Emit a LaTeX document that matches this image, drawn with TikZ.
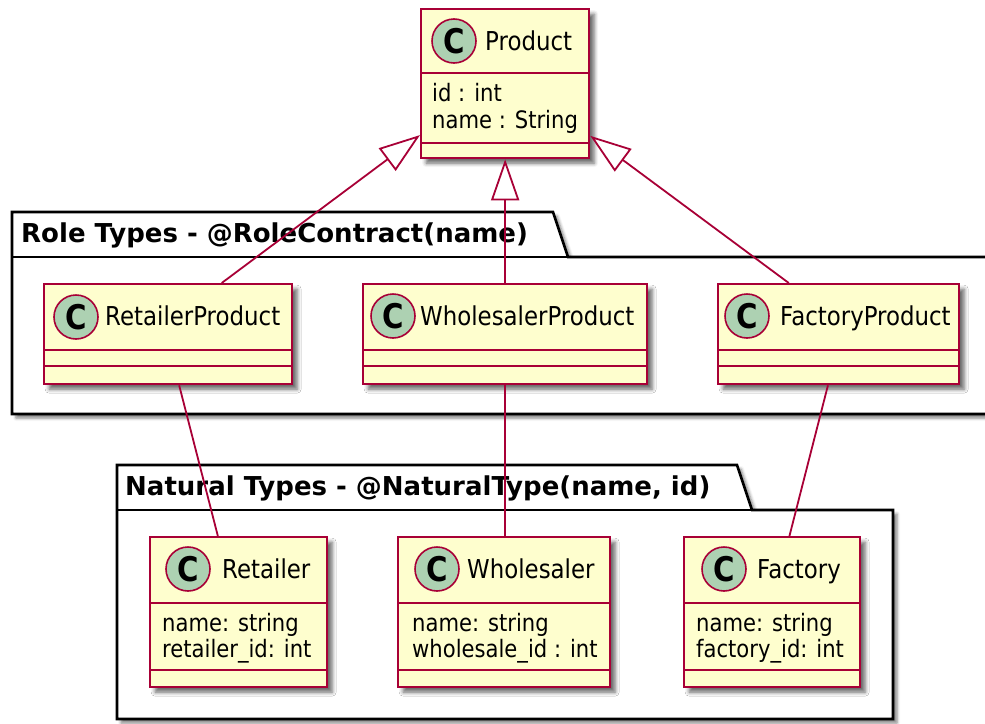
\documentclass[tikz,border=0pt]{standalone}
\usepackage{fontspec}
\setmainfont{DejaVu Sans}
\newfontfamily\clsfont[FakeStretch=0.88]{DejaVu Sans}
\newfontfamily\markfont[FakeStretch=0.86]{DejaVu Sans}
\usetikzlibrary{arrows.meta,calc,shadows.blur}
\definecolor{umlborder}{HTML}{A80036}
\definecolor{umlfill}{HTML}{FEFECE}
\definecolor{umlmark}{HTML}{ADD1B2}
\tikzset{
  classbox/.style={draw=umlborder, fill=umlfill, line width=2.3pt, rectangle, inner sep=0pt, anchor=north west,
    blur shadow={shadow xshift=5pt, shadow yshift=-5pt, shadow blur radius=4pt, shadow opacity=60}},
  divider/.style={draw=umlborder, line width=2.2pt},
  classmark/.style={circle, draw=umlborder, fill=umlmark, line width=1.6pt, minimum size=44pt, inner sep=0pt,
    font=\markfont\bfseries\fontsize{34}{34}\selectfont},
  classname/.style={anchor=base west, inner sep=0pt, font=\clsfont\fontsize{26}{30}\selectfont},
  attr/.style={anchor=base west, inner sep=0pt, font=\clsfont\fontsize{24}{26}\selectfont},
  pkg/.style={draw=black, line width=2.6pt, fill=white, line join=miter,
    blur shadow={shadow xshift=4pt, shadow yshift=-4pt, shadow blur radius=3pt, shadow opacity=50}},
  pkgline/.style={draw=black, line width=2.6pt},
  pkgtitle/.style={anchor=base west, inner sep=0pt, font=\bfseries\fontsize{26}{30}\selectfont},
  extends/.style={draw=umlborder, line width=1.8pt, -{Triangle[open, fill=white, length=41pt, width=28pt]}},
  assoc/.style={draw=umlborder, line width=1.8pt},
}
\begin{document}
\begin{tikzpicture}[x=1pt, y=-1pt]
\useasboundingbox (0,0) rectangle (985,723);
\clip (0,0) rectangle (985,723);

% packages
\path[pkg] (12,414) -- (12,212) -- (553,212) -- (568,257) -- (1000,257) -- (1000,414) -- cycle;
\draw[pkgline] (12,257) -- (568,257);
\node[pkgtitle] (roletitle) at (21,242) {Role Types - @RoleContract(name)};

\path[pkg] (117,719) -- (117,465) -- (737,465) -- (752,510) -- (893,510) -- (893,719) -- cycle;
\draw[pkgline] (117,510) -- (752,510);
\node[pkgtitle] (naturaltitle) at (125,495) {Natural Types - @NaturalType(name, id)};

% Product
\node[classbox, minimum width=168pt, minimum height=149pt] (prod) at (420,8) {};
\draw[divider] (prod.west |- 0,73) -- (prod.east |- 0,73);
\draw[divider] (prod.west |- 0,143) -- (prod.east |- 0,143);
\node[classmark] (prod-m) at (454,41) {C};
\node[classname] (prod-n) at (485,50) {Product};
\node[attr] (prod-a1) at (432,101) {id : int};
\node[attr] (prod-a2) at (432,128) {name : String};

% RetailerProduct
\node[classbox, minimum width=248pt, minimum height=100pt] (rp) at (43,283) {};
\draw[divider] (rp.west |- 0,350) -- (rp.east |- 0,350);
\draw[divider] (rp.west |- 0,366) -- (rp.east |- 0,366);
\node[classmark] (rp-m) at (76,317) {C};
\node[classname] (rp-n) at (105,325) {RetailerProduct};

% WholesalerProduct
\node[classbox, minimum width=284pt, minimum height=100pt] (wp) at (362,283) {};
\draw[divider] (wp.west |- 0,350) -- (wp.east |- 0,350);
\draw[divider] (wp.west |- 0,366) -- (wp.east |- 0,366);
\node[classmark] (wp-m) at (393,316) {C};
\node[classname] (wp-n) at (420,325) {WholesalerProduct};

% FactoryProduct
\node[classbox, minimum width=241pt, minimum height=100pt] (fp) at (717,283) {};
\draw[divider] (fp.west |- 0,350) -- (fp.east |- 0,350);
\draw[divider] (fp.west |- 0,366) -- (fp.east |- 0,366);
\node[classmark] (fp-m) at (747,316) {C};
\node[classname] (fp-n) at (780,325) {FactoryProduct};

% Retailer
\node[classbox, minimum width=177pt, minimum height=150pt] (rt) at (149,536) {};
\draw[divider] (rt.west |- 0,603) -- (rt.east |- 0,603);
\draw[divider] (rt.west |- 0,670) -- (rt.east |- 0,670);
\node[classmark] (rt-m) at (188,569) {C};
\node[classname] (rt-n) at (222,578) {Retailer};
\node[attr] (rt-a1) at (162,631) {name: string};
\node[attr] (rt-a2) at (162,657) {retailer\_id: int};

% Wholesaler
\node[classbox, minimum width=212pt, minimum height=150pt] (wh) at (397,536) {};
\draw[divider] (wh.west |- 0,603) -- (wh.east |- 0,603);
\draw[divider] (wh.west |- 0,670) -- (wh.east |- 0,670);
\node[classmark] (wh-m) at (437,569) {C};
\node[classname] (wh-n) at (467,578) {Wholesaler};
\node[attr] (wh-a1) at (412,631) {name: string};
\node[attr] (wh-a2) at (412,657) {wholesale\_id : int};

% Factory
\node[classbox, minimum width=176pt, minimum height=150pt] (fa) at (683,536) {};
\draw[divider] (fa.west |- 0,603) -- (fa.east |- 0,603);
\draw[divider] (fa.west |- 0,670) -- (fa.east |- 0,670);
\node[classmark] (fa-m) at (724,569) {C};
\node[classname] (fa-n) at (757,578) {Factory};
\node[attr] (fa-a1) at (696,631) {name: string};
\node[attr] (fa-a2) at (696,657) {factory\_id: int};

% generalisations
\draw[extends] ($(rp.north west)!0.714!(rp.north east)$) -- ($(prod.south west)!0.16!(prod.north west)$);
\draw[extends] (wp.north) -- (prod.south);
\draw[extends] ($(fp.north west)!0.295!(fp.north east)$) -- ($(prod.south east)!0.155!(prod.north east)$);

% associations
\draw[assoc] ($(rp.south west)!0.544!(rp.south east)$) -- ($(rt.north west)!0.384!(rt.north east)$);
\draw[assoc] (wp.south) -- (wp.south |- wh.north);
\draw[assoc] ($(fp.south west)!0.456!(fp.south east)$) -- ($(fa.north west)!0.597!(fa.north east)$);
\end{tikzpicture}
\end{document}
